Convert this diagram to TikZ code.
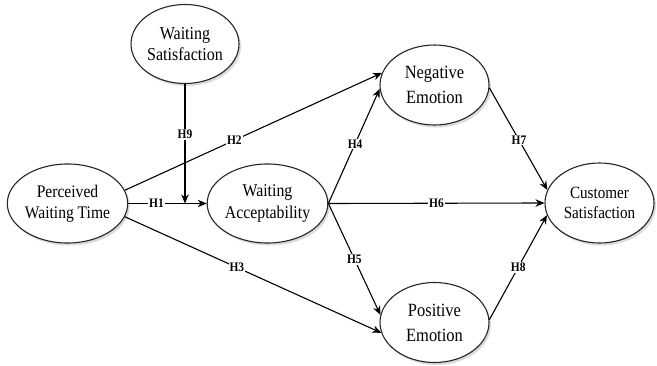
\documentclass[tikz,border=0pt]{standalone}
\usepackage{fontspec}
\setmainfont{Liberation Serif}[FakeStretch=0.88]
\usetikzlibrary{shapes.geometric,arrows.meta,shadows}
\begin{document}
\begin{tikzpicture}[x=1pt,y=-1pt,
  construct/.style={ellipse,draw=black!85,line width=1.1pt,fill=white,inner sep=0pt,
    minimum width=108pt,minimum height=79pt,align=center,
    drop shadow={shadow xshift=2pt,shadow yshift=-2.5pt,fill=black!28}},
  link/.style={line width=1.1pt,-{Stealth[length=9pt,width=7.5pt]}},
  hyp/.style={fill=white,inner sep=1pt,font=\fontsize{13}{15}\selectfont\bfseries}]
\useasboundingbox (0,0) rectangle (657,366);
\node[construct,font=\fontsize{18.2}{21}\selectfont] (ws) at (185,44) {Waiting\\Satisfaction};
\node[construct,font=\fontsize{17.7}{20.7}\selectfont] (pwt) at (67.5,203.5) {Perceived\\Waiting Time};
\node[construct,font=\fontsize{18}{21.5}\selectfont] (wa) at (267.5,203.5) {Waiting\\Acceptability};
\node[construct,font=\fontsize{18.7}{25}\selectfont,minimum width=109pt,minimum height=80pt] (ne) at (434.5,85) {Negative\\Emotion};
\node[construct,font=\fontsize{18.7}{25}\selectfont,minimum width=109pt,minimum height=80pt] (pe) at (434.5,322.5) {Positive\\Emotion};
\node[construct,font=\fontsize{17.2}{19.5}\selectfont,minimum width=109pt,minimum height=80pt] (cs) at (599.5,203) {Customer\\Satisfaction};
\coordinate (j) at (185,203.5);
\draw[link] (pwt.east) -- node[hyp,pos=0.36] {H1} (wa.west);
\draw[link] (ws.south) -- node[hyp,pos=0.42] {H9} (j);
\draw[link] (pwt.13) -- node[hyp,pos=0.426] {H2} (ne.167);
\draw[link] (pwt.-13) -- node[hyp,pos=0.437] {H3} (pe.191);
\draw[link] (wa.east) -- node[hyp,pos=0.52] {H4} (ne.184);
\draw[link] (wa.east) -- node[hyp,pos=0.5] {H5} (pe.172);
\draw[link] (wa.east) -- node[hyp,pos=0.5] {H6} (cs.west);
\draw[link] (ne.-3) -- node[hyp,pos=0.51] {H7} (cs.166);
\draw[link] (pe.3) -- node[hyp,pos=0.5] {H8} (cs.193);
\end{tikzpicture}
\end{document}
